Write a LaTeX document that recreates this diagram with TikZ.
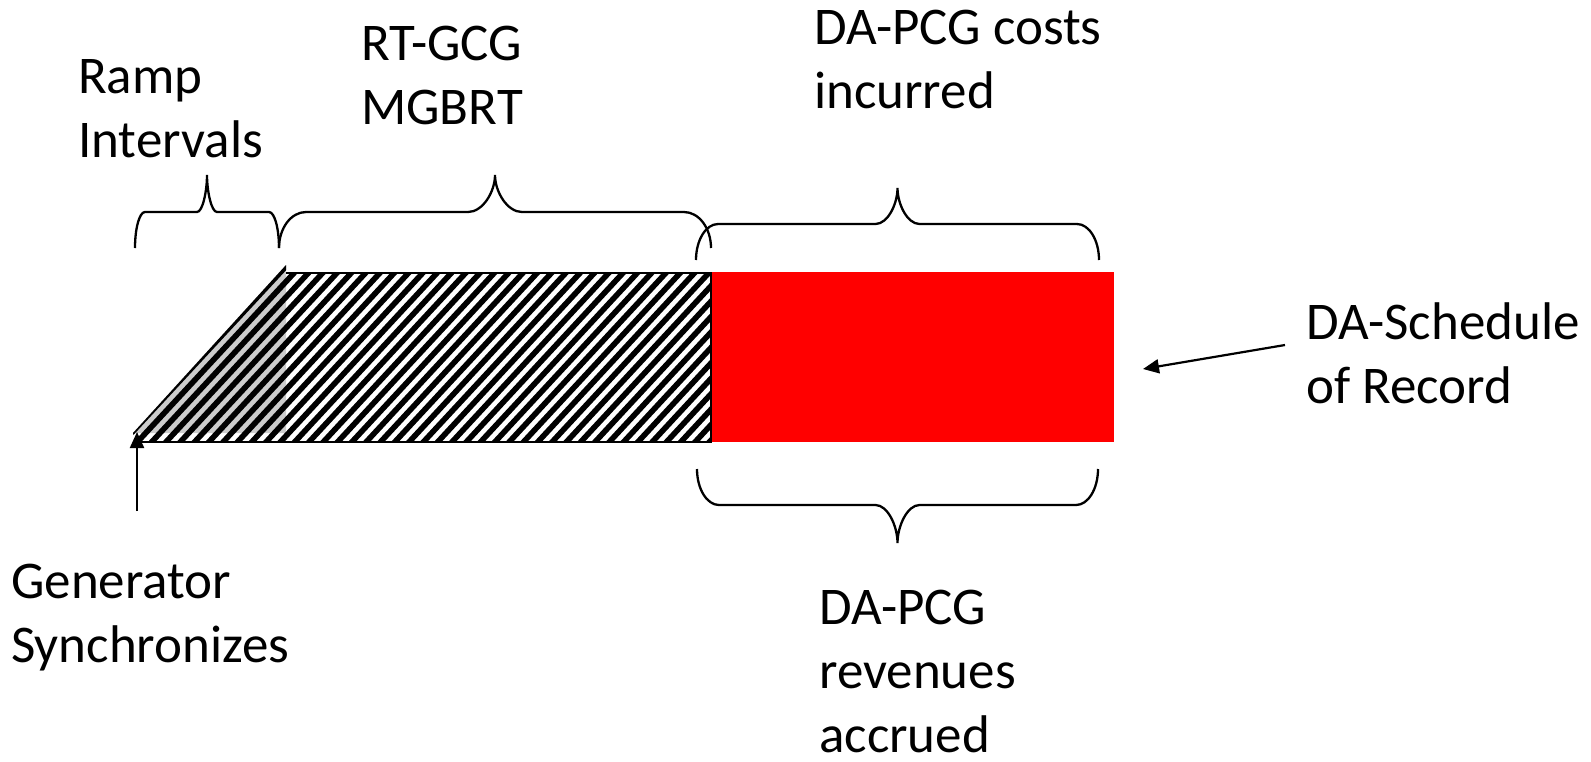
\documentclass[tikz,border=0pt]{standalone}
\usepackage{fontspec}
\setmainfont{Carlito}
\usetikzlibrary{arrows.meta}
\newcommand\bracepath[6]{% x0 x1 yend yflat ytip r
  \pgfmathsetmacro\xm{(#1+#2)/2}%
  \draw[bracestyle] (#1,#3) .. controls (#1,{#3-0.552*(#3-#4)}) and ({#1+0.448*#6},#4) .. ({#1+#6},#4)
    -- ({\xm-#6},#4) .. controls ({\xm-0.448*#6},#4) and (\xm,{#4-0.552*(#4-#5)}) .. (\xm,#5)
    .. controls (\xm,{#4-0.552*(#4-#5)}) and ({\xm+0.448*#6},#4) .. ({\xm+#6},#4)
    -- ({#2-#6},#4) .. controls ({#2-0.448*#6},#4) and (#2,{#3-0.552*(#3-#4)}) .. (#2,#3);%
}
\begin{document}
\begin{tikzpicture}[x=1pt,y=-1pt,
  lbl/.style={inner sep=0pt,anchor=base west,align=left,font=\fontsize{53}{64}\selectfont},
  bracestyle/.style={line width=2.3pt,black},
  arr/.style={line width=2.2pt,-{Triangle[length=16pt,width=14pt]}},
  stripe/.style={line width=5.6pt,black}]
\useasboundingbox (0,0) rectangle (1591,761);
% red block
\fill[red] (711,272) rectangle (1114,442);
% gray ramp shade
\fill[black!20] (133,433) -- (286,265) -- (286,433) -- cycle;
% hatching
\begin{scope}
  \clip (135,442) -- (133,433) -- (286,265) -- (286,273) -- (711,273) -- (711,442) -- cycle;
  \foreach \i in {-20,...,45} {
    \draw[stripe] ({135+\i*14.3},460) -- ++(190,-205);
  }
\end{scope}
\draw[line width=2.3pt] (286,273) -- (711,273) -- (711,442) -- (135,442);
% braces
\bracepath{135}{279}{248}{212}{175}{10}
\bracepath{279}{711}{248}{212}{175}{27}
\bracepath{696}{1099}{260}{224}{188}{22}
\bracepath{697}{1098}{469}{505}{543}{22}
% labels
\node[lbl] (ramp) at (78,157) {Ramp\\Intervals};
\node[lbl] (rt) at (361,124) {RT-GCG\\MGBRT};
\node[lbl] (cost) at (814,108) {DA-PCG costs\\incurred};
\node[lbl] (sched) at (1306,403) {DA-Schedule\\of Record};
\node[lbl] (gen) at (11,662) {Generator\\Synchronizes};
\node[lbl] (rev) at (819,752) {DA-PCG\\revenues\\accrued};
% arrows
\coordinate (schedtail) at (1285,345);
\coordinate (schedtip) at (1143,369);
\coordinate (gentail) at (137,511);
\coordinate (gentip) at (137,432);
\draw[arr] (schedtail) -- (schedtip);
\draw[arr] (gentail) -- (gentip);
\end{tikzpicture}
\end{document}
